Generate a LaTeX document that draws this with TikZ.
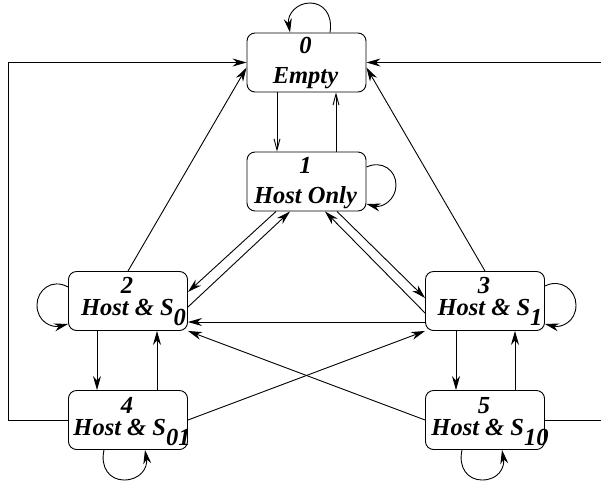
\documentclass[tikz,border=0pt]{standalone}
\usepackage{fontspec}
\setmainfont{Liberation Serif}
\usetikzlibrary{arrows.meta,calc}
\begin{document}
\begin{tikzpicture}[x=1pt,y=-1pt,
  stbox/.style={draw, line width=0.9pt, rounded corners=8pt, minimum width=119pt, minimum height=59pt, inner sep=0pt},
  lbl/.style={inner sep=0pt, anchor=base, align=center, font=\bfseries\itshape\fontsize{24.5}{22}\selectfont},
  con/.style={line width=0.9pt},
  arr/.style={con, -{Stealth[length=14pt,width=8pt,inset=4.5pt]}},
  thin/.style={con, -{Straight Barb[length=11pt,width=6pt]}}]
\useasboundingbox (0,0) rectangle (601,485);
% boxes
\node[stbox] (n0) at (306.5,62.5) {};
\node[stbox] (n1) at (306.5,181.5) {};
\node[stbox] (n2) at (128,301) {};
\node[stbox] (n3) at (485,301) {};
\node[stbox] (n4) at (128,420) {};
\node[stbox] (n5) at (485,420) {};
% labels (anchor base = baseline of the last line)
\node[lbl] (t0) at (305.5,83) {0\\[8pt]Empty};
\node[lbl] (t1) at (305.5,203) {1\\[8pt]Host Only};
\node[lbl] (t2) at (133.5,315) {2\hspace*{13pt}\\Host \& S\raisebox{-10pt}{0}};
\node[lbl] (t3) at (490,315) {3\hspace*{12pt}\\Host \& S\raisebox{-10pt}{1}};
\node[lbl] (t4) at (132,435) {4\hspace*{10pt}\\Host \& S\raisebox{-10pt}{01}};
\node[lbl] (t5) at (490,435) {5\hspace*{12pt}\\Host \& S\raisebox{-10pt}{10}};
% free ends at the right border
\coordinate (r0) at (601,62.5);
\coordinate (r5) at (601,420);
% self loops
\draw[arr] ($(n0.north)+(23.5,0)$) .. controls (333,14) and (323,3) .. (310,3)
   .. controls (297,3) and (287,14) .. ($(n0.north)+(-16.5,0)$);
\draw[arr] ($(n1.east)+(0,-14.5)$) .. controls (382,160) and (396,170) .. (396,185)
   .. controls (396,200) and (382,208) .. ($(n1.east)+(0,22.5)$);
\draw[arr] ($(n2.west)+(0,-14)$) .. controls (52,278) and (37,290) .. (37,305)
   .. controls (37,322) and (52,328) .. ($(n2.west)+(0,23)$);
\draw[arr] ($(n3.east)+(0,-15)$) .. controls (561,278) and (576,290) .. (576,305)
   .. controls (576,322) and (561,328) .. ($(n3.east)+(0,23)$);
\draw[arr] ($(n4.south)+(-24,0)$) .. controls (100,468) and (110,480) .. (124,480)
   .. controls (140,480) and (148,468) .. ($(n4.south)+(17,0)$);
\draw[arr] ($(n5.south)+(-23,0)$) .. controls (458,468) and (468,480) .. (482,480)
   .. controls (498,480) and (505,468) .. ($(n5.south)+(17,0)$);
% 0 <-> 1
\draw[thin] ($(n0.south)+(-29.5,0)$) -- ($(n1.north)+(-29.5,0)$);
\draw[thin] ($(n1.north)+(29.5,0)$) -- ($(n0.south)+(29.5,0)$);
% to 0
\draw[arr] (n2.north) -- ($(n0.west)+(0,5)$);
\draw[arr] (n3.north) -- ($(n0.east)+(0,5)$);
\draw[arr] (n4.west) -- ++(-60,0) |- (n0.west);
\draw[arr] (r0) -- (n0.east);
\draw[con] (n5.east) -- (r5);
% 1 <-> 2, 1 <-> 3
\draw[arr] ($(n1.south)+(-30.5,0)$) -- ($(n2.east)+(0,-9)$);
\draw[arr] ($(n2.east)+(0,6)$) -- ($(n1.south)+(-16.5,0)$);
\draw[arr] ($(n1.south)+(30.5,0)$) -- ($(n3.west)+(0,-3)$);
\draw[arr] ($(n3.west)+(0,12)$) -- ($(n1.south)+(18.5,0)$);
% 3 -> 2, crosses
\draw[arr] ($(n3.west)+(0,21)$) -- ($(n2.east)+(0,21)$);
\draw[arr] (n5.west) -- (n2.south east);
\draw[arr] (n4.east) -- (n3.south west);
% verticals
\draw[arr] ($(n2.south)+(-31,0)$) -- ($(n4.north)+(-31,0)$);
\draw[arr] ($(n4.north)+(29,0)$) -- ($(n2.south)+(29,0)$);
\draw[arr] ($(n3.south)+(-29,0)$) -- ($(n5.north)+(-29,0)$);
\draw[arr] ($(n5.north)+(30,0)$) -- ($(n3.south)+(30,0)$);
\end{tikzpicture}
\end{document}
